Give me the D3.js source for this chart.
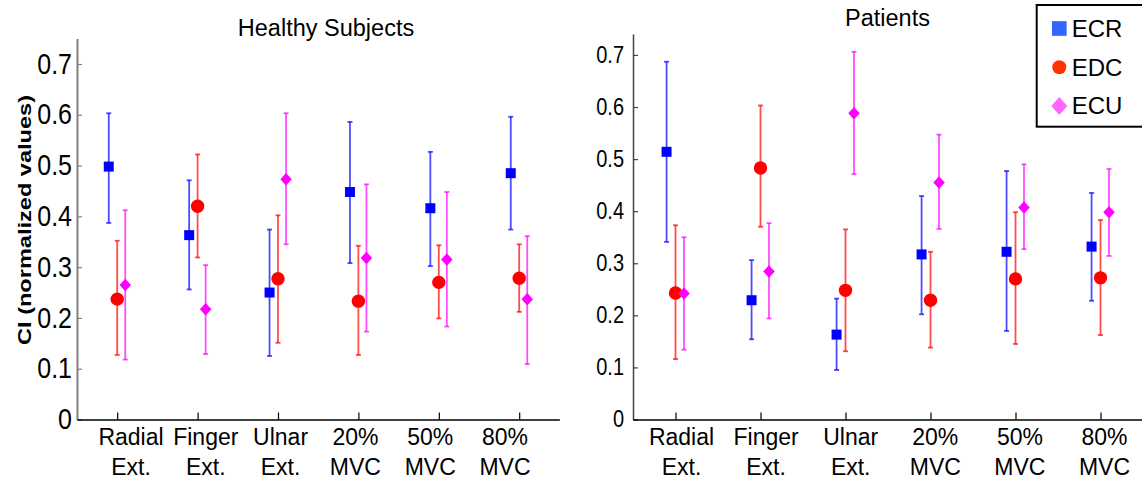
<!DOCTYPE html>
<html>
<head>
<meta charset="utf-8">
<script src="https://cdn.jsdelivr.net/npm/d3@7"></script>
<style>
  body { margin: 0; background: #fff; }
  svg { display: block; font-family: "Liberation Sans", Arial, sans-serif; }
</style>
</head>
<body>
<svg id="chart"></svg>
<script>
const width = 1142;
const height = 477;

// categories (tick labels, two lines each)
const categories = ["Radial Ext.", "Finger Ext.", "Ulnar Ext.", "20% MVC", "50% MVC", "80% MVC"];
const muscles = ["ECR", "EDC", "ECU"];
const yTicks = [0, 0.1, 0.2, 0.3, 0.4, 0.5, 0.6, 0.7];

// [mean, lower, upper] per category
const healthyECR = [[0.498, 0.387, 0.603], [0.363, 0.256, 0.471], [0.250, 0.125, 0.374], [0.448, 0.308, 0.586], [0.416, 0.302, 0.527], [0.485, 0.374, 0.596]];
const healthyEDC = [[0.237, 0.127, 0.352], [0.420, 0.319, 0.522], [0.277, 0.151, 0.402], [0.233, 0.127, 0.342], [0.270, 0.199, 0.343], [0.278, 0.212, 0.345]];
const healthyECU = [[0.265, 0.118, 0.412], [0.217, 0.129, 0.304], [0.473, 0.345, 0.603], [0.318, 0.173, 0.463], [0.315, 0.183, 0.448], [0.237, 0.109, 0.361]];

const patientECR = [[0.514, 0.341, 0.687], [0.229, 0.154, 0.306], [0.163, 0.095, 0.232], [0.317, 0.202, 0.429], [0.322, 0.170, 0.477], [0.332, 0.228, 0.435]];
const patientEDC = [[0.243, 0.116, 0.373], [0.483, 0.370, 0.603], [0.248, 0.131, 0.365], [0.229, 0.138, 0.322], [0.270, 0.145, 0.398], [0.272, 0.162, 0.383]];
const patientECU = [[0.242, 0.134, 0.350], [0.284, 0.194, 0.377], [0.588, 0.471, 0.706], [0.455, 0.366, 0.547], [0.407, 0.327, 0.490], [0.398, 0.314, 0.481]];

const markColor = { ECR: "#0000ff", EDC: "#ff0000", ECU: "#ff00ff" };
const legendColor = { ECR: "#3366ff", EDC: "#ff3300", ECU: "#ff66ff" };
const offset = { ECR: -0.105, EDC: 0, ECU: 0.1 };

const panels = [
  { title: "Healthy Subjects", titleX: 326, titleY: 36, series: { ECR: healthyECR, EDC: healthyEDC, ECU: healthyECU },
    x0: 77, x1: 559.4, labelRange: [131, 505], yMax: 0.75, yTop: 38.6, tickFont: 25, tickPad: 5, axisColor: "#808080", axisWidth: 2 },
  { title: "Patients", titleX: 887.5, titleY: 26, series: { ECR: patientECR, EDC: patientEDC, ECU: patientECU },
    x0: 633, x1: 1143, labelRange: [681.5, 1104.5], yMax: 0.74, yTop: 34.1, tickFont: 20, tickPad: 9, axisColor: "#444", axisWidth: 1.5 }
];
const yBottom = 419.5;

const svg = d3.select("#chart")
  .attr("width", width)
  .attr("height", height)
  .attr("viewBox", `0 0 ${width} ${height}`);

// marker shapes
const squarePath = s => `M${-s / 2},${-s / 2}h${s}v${s}h${-s}Z`;
const diamondPath = (w, h) => `M0,${-h / 2}L${w / 2},0L0,${h / 2}L${-w / 2},0Z`;
const marker = (sel, name, big) => {
  if (name === "ECR") sel.append("path").attr("d", squarePath(big ? 14.7 : 10));
  else if (name === "EDC") sel.append("circle").attr("r", big ? 7 : 6.7);
  else sel.append("path").attr("d", big ? diamondPath(16, 18) : diamondPath(11.5, 12.5));
};

panels.forEach(p => {
  const x = d3.scaleLinear().domain([0.5, 6.5]).range([p.x0, p.x1]);
  const xLabel = d3.scaleLinear().domain([1, 6]).range(p.labelRange);
  const y = d3.scaleLinear().domain([0, p.yMax]).range([yBottom, p.yTop]);
  const g = svg.append("g");

  // y axis
  const yAxis = g.append("g")
    .attr("transform", `translate(${p.x0},0)`)
    .call(d3.axisLeft(y).tickValues(yTicks).tickSize(-5).tickSizeOuter(0).tickPadding(p.tickPad)
      .tickFormat(d => d === 0 ? "0" : d3.format(".1f")(d)));
  yAxis.select(".domain").attr("stroke", p.axisColor).attr("stroke-width", p.axisWidth);
  yAxis.selectAll(".tick line").attr("stroke", p.axisColor).attr("stroke-width", 1.2);
  yAxis.selectAll(".tick text")
    .attr("font-size", p.tickFont)
    .attr("font-family", "Liberation Sans, Arial, sans-serif")
    .attr("fill", "#000")
    .attr("transform", "scale(1,1.15)");

  // x axis
  const xAxis = g.append("g")
    .attr("transform", `translate(0,${yBottom})`)
    .call(d3.axisBottom(x).tickValues(d3.range(1, 7)).tickSize(-7).tickSizeOuter(0).tickFormat(""));
  xAxis.select(".domain").attr("stroke", "#000").attr("stroke-width", 1.6);
  xAxis.selectAll(".tick line").attr("stroke", "#000").attr("stroke-width", 1.2);
  xAxis.selectAll(".tick text").remove();

  // category labels, two lines
  const labels = g.append("g").attr("transform", `translate(0,${yBottom})`)
    .selectAll("text").data(d3.range(1, 7)).join("text")
    .attr("fill", "#000")
    .attr("font-size", 23)
    .attr("text-anchor", "middle");
  labels.each(function (d) {
    const parts = categories[d - 1].split(" ");
    const t = d3.select(this);
    t.append("tspan").attr("x", xLabel(d)).attr("y", 25.5).text(parts[0]);
    t.append("tspan").attr("x", xLabel(d)).attr("y", 55).text(parts[1]);
  });

  // title
  g.append("text")
    .attr("x", p.titleX)
    .attr("y", p.titleY)
    .attr("text-anchor", "middle")
    .attr("font-size", 23.5)
    .text(p.title);

  // error bars and markers
  muscles.forEach(m => {
    const rows = p.series[m].map((v, i) => ({ i: i + 1, mean: v[0], lo: v[1], hi: v[2] }));
    const grp = g.append("g");
    const bars = grp.selectAll("g.err").data(rows).join("g").attr("class", "err")
      .attr("stroke", markColor[m]).attr("stroke-opacity", 0.7).attr("stroke-width", 1.8);
    bars.append("line")
      .attr("x1", d => x(d.i + offset[m])).attr("x2", d => x(d.i + offset[m]))
      .attr("y1", d => y(d.lo)).attr("y2", d => y(d.hi));
    bars.append("line")
      .attr("x1", d => x(d.i + offset[m]) - 2.5).attr("x2", d => x(d.i + offset[m]) + 2.5)
      .attr("y1", d => y(d.lo)).attr("y2", d => y(d.lo));
    bars.append("line")
      .attr("x1", d => x(d.i + offset[m]) - 2.5).attr("x2", d => x(d.i + offset[m]) + 2.5)
      .attr("y1", d => y(d.hi)).attr("y2", d => y(d.hi));

    grp.selectAll("g.mk").data(rows).join("g").attr("class", "mk")
      .attr("transform", d => `translate(${x(d.i + offset[m])},${y(d.mean)})`)
      .attr("fill", markColor[m])
      .each(function () { marker(d3.select(this), m, false); });
  });
});

// y axis label
svg.append("text")
  .attr("transform", "translate(24,220) rotate(-90) scale(1.24,1)")
  .attr("text-anchor", "middle")
  .attr("dy", "0.35em")
  .attr("font-size", 19)
  .attr("font-weight", "bold")
  .text("CI (normalized values)");

// legend
const legend = svg.append("g");
legend.append("rect")
  .attr("x", 1036.7).attr("y", 5)
  .attr("width", 140).attr("height", 121.7)
  .attr("fill", "#fff").attr("stroke", "#000").attr("stroke-width", 2);
const legendY = d3.scalePoint().domain(muscles).range([28.5, 106]);
const items = legend.selectAll("g.item").data(muscles).join("g").attr("class", "item")
  .attr("transform", d => `translate(1059.3,${legendY(d)})`);
items.each(function (d) {
  const it = d3.select(this);
  const mk = it.append("g").attr("fill", legendColor[d]);
  marker(mk, d, true);
  it.append("text")
    .attr("x", 12.4)
    .attr("dy", "0.35em")
    .attr("font-size", 24)
    .text(d);
});
</script>
</body>
</html>
